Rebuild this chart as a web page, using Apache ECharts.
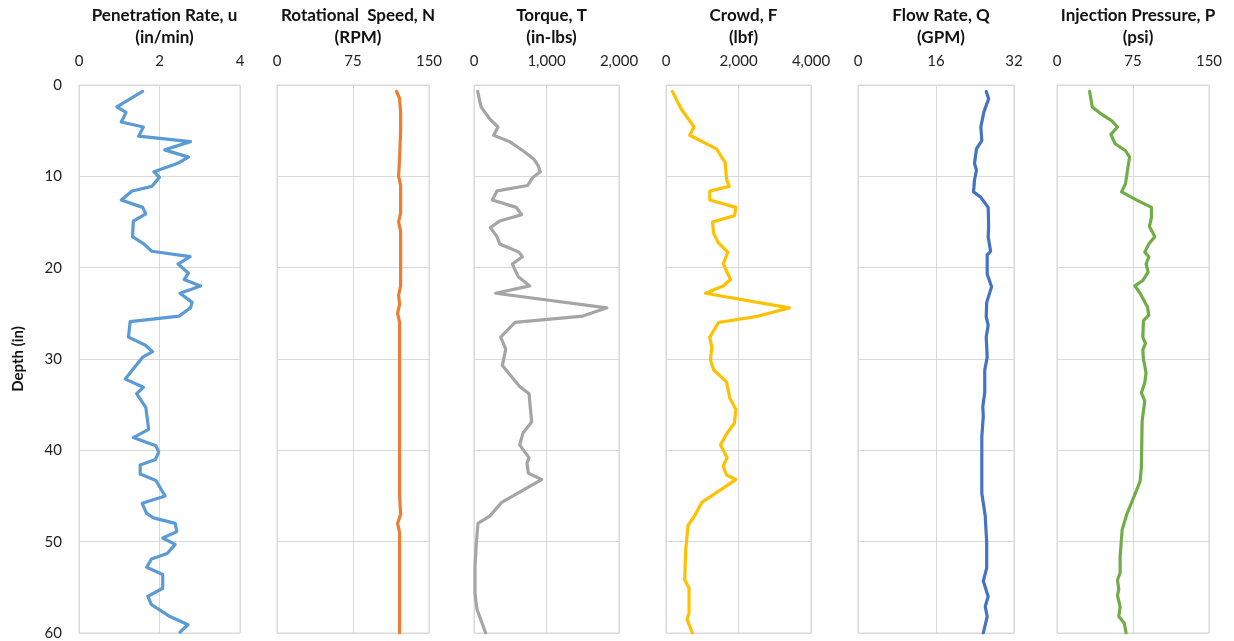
<!DOCTYPE html>
<html><head><meta charset="utf-8">
<script src="https://cdn.jsdelivr.net/npm/echarts@6/dist/echarts.min.js"></script>
<style>html,body{margin:0;padding:0;background:#fff}#c{width:1234px;height:641px}</style>
</head><body><div id="c"></div>
<script>
// ---- Data ----
const titles = ["Penetration Rate, u\n(in/min)", "Rotational  Speed, N\n(RPM)", "Torque, T\n(in-lbs)", "Crowd, F\n(lbf)", "Flow Rate, Q\n(GPM)", "Injection Pressure, P\n(psi)"];
const xMax = [4, 150, 2000, 4000, 32, 150];
const xInterval = [2, 75, 1000, 2000, 16, 75];
const depthTicks = [0, 10, 20, 30, 40, 50, 60];

const penDepth = [0.7,2.4,3.0,4.05,4.6,5.6,6.2,7.1,7.9,8.6,9.5,10.1,11.1,11.6,12.6,13.4,14.1,14.9,16.6,17.4,18.2,18.8,19.6,20.6,21.3,22.0,22.8,23.8,24.4,25.3,25.9,27.6,28.5,29.2,29.8,32.2,33.1,33.8,35.3,37.7,38.6,39.5,40.2,41.0,41.6,42.6,43.3,45.0,45.8,46.9,47.4,48.0,48.9,49.6,50.3,51.3,51.9,52.8,53.6,55.1,56.0,56.9,58.2,59.1,59.9];
const penRate = [1.58,0.94,1.17,1.05,1.6,1.48,2.77,2.13,2.72,2.44,1.86,2.0,1.81,1.32,1.05,1.58,1.66,1.35,1.33,1.61,1.81,2.76,2.46,2.72,2.61,3.02,2.51,2.81,2.77,2.49,1.27,1.23,1.65,1.83,1.58,1.15,1.6,1.43,1.66,1.73,1.35,1.91,1.98,1.9,1.52,1.52,1.91,2.14,1.57,1.68,1.85,2.39,2.43,2.08,2.39,2.19,1.8,1.68,2.08,2.08,1.71,1.8,2.26,2.71,2.51];

const rpmDepth = [0.7,1.5,3,5,8,10,11,14,15,16,22,23,24,25,26,30,40,45,47,48,49,55,60];
const rpm = [118,121,122,122,121,120,122,122,120,122,122,120,121,119,121,121,121,121,122,119,121,121,121];

const torqueDepth = [0.7,2.4,3.7,4.6,5.5,6.2,7.2,8.1,8.8,9.5,10.1,11.0,11.6,12.6,13.4,14.2,14.9,15.6,16.6,17.4,18.3,18.8,19.6,21.0,22.0,22.8,24.4,25.3,26.0,27.6,28.9,29.3,30.7,33.0,33.8,36.9,38.1,39.4,40.8,41.4,42.5,43.2,44.2,45.7,47.2,48.0,50.2,52.7,55.7,57.4,60.0];
const torque = [51,97,216,331,271,492,676,823,883,915,814,740,317,253,584,657,354,225,317,354,621,667,529,611,768,299,1834,1503,566,368,437,428,391,630,759,795,676,630,759,731,749,933,713,382,216,55,32,14,14,41,161];

const crowdDepth = [0.7,2.6,4.6,5.5,7.0,8.5,10.3,11.1,11.6,12.6,13.4,14.3,15.0,16.3,17.3,18.3,19.6,21.3,22.0,22.8,24.4,25.3,26.0,27.6,28.7,30.1,31.2,32.5,34.3,35.5,37.0,38.1,39.4,40.8,41.7,42.7,43.2,45.7,47.2,48.2,50.9,54.2,55.1,57.8,58.5,60.0];
const crowd = [175,415,774,654,1392,1632,1669,1743,1208,1208,1927,1890,1282,1319,1448,1706,1577,1780,1577,1088,3402,2554,1448,1208,1263,1226,1319,1669,1761,1927,1890,1687,1503,1687,1577,1669,1927,987,784,609,544,516,636,636,581,728];

const flowDepth = [0.7,1.5,3.0,4.6,6.1,7.0,8.6,9.3,10.4,11.7,12.3,13.4,15.5,16.6,18.2,18.6,20.7,22.1,23.8,25.4,26.3,27.6,29.8,31.2,33.7,35.2,36.3,38.5,44.7,47.2,50.1,52.9,54.3,56.0,57.1,58.2,60.0];
const flow = [26.3,26.8,25.8,25.2,25.4,24.3,23.9,24.3,23.9,23.7,25.2,26.7,26.8,26.7,27.2,26.5,26.5,27.4,26.4,26.3,26.7,26.3,26.5,26.0,26.0,25.6,25.7,25.4,25.4,26.1,26.4,26.4,25.7,26.7,26.1,26.5,25.7];

const injDepth = [0.7,2.4,3.1,3.9,4.6,5.4,6.4,7.2,7.9,9.3,10.8,11.7,12.6,13.4,14.5,15.5,16.6,17.4,18.3,18.8,19.6,20.5,21.4,22.0,22.8,24.3,25.2,25.8,27.6,28.3,29.0,30.0,31.5,32.6,33.7,34.6,36.8,41.8,43.4,45.2,47.0,48.7,51.6,53.4,54.2,55.2,55.9,57.1,58.2,58.9,60.0];
const inj = [32.2,34.8,42.7,53.8,59.7,53.2,57.1,67.6,71.6,69.6,67.6,63.7,78.8,93.2,93.2,91.2,96.5,90.6,86.6,90.6,88.0,89.9,84.7,76.8,82.0,89.3,90.6,85.3,84.7,87.3,84.7,85.3,87.9,86.6,83.3,86.6,84.0,83.3,82.0,75.5,68.9,64.3,62.3,62.3,59.7,61.0,59.7,62.3,61.0,66.3,68.2];

const colors = ['#5B9BD5','#ED7D31','#A5A5A5','#FFC000','#4472C4','#70AD47'];
const seriesDepth = [penDepth, rpmDepth, torqueDepth, crowdDepth, flowDepth, injDepth];
const seriesVals = [penRate, rpm, torque, crowd, flow, inj];

// ---- Layout ----
const gLefts = [79, 277, 474, 666, 858, 1057];
const gWidths = [161, 152, 145, 145, 156, 152];
const gTop = 85, gHeight = 548;
const font = 'Lato, "Open Sans", sans-serif';

const grid = [], xAxis = [], yAxis = [], series = [], title = [];
for (let i = 0; i < 6; i++) {
  grid.push({left: gLefts[i], width: gWidths[i], top: gTop, height: gHeight, show: true, borderColor: '#D9D9D9', borderWidth: 1, containLabel: false});
  xAxis.push({type: 'value', gridIndex: i, position: 'top', min: 0, max: xMax[i], interval: xInterval[i],
    axisLine: {show: false}, axisTick: {show: false},
    splitLine: {show: true, lineStyle: {color: '#D9D9D9', width: 1}},
    axisLabel: {color: '#222', fontSize: 15, fontFamily: font, margin: 16, formatter: v => v.toLocaleString('en-US')}});
  yAxis.push({type: 'value', gridIndex: i, inverse: true, min: depthTicks[0], max: depthTicks[depthTicks.length-1], interval: 10,
    axisLine: {show: false}, axisTick: {show: false},
    splitLine: {show: true, lineStyle: {color: '#D9D9D9', width: 1}},
    axisLabel: {show: i === 0, color: '#222', fontSize: 15, fontFamily: font, margin: 17},
    name: i === 0 ? 'Depth (in)' : '', nameLocation: 'middle', nameRotate: 90, nameGap: 53,
    nameTextStyle: {fontSize: 15, fontWeight: 'bold', color: '#111', fontFamily: font}});
  title.push({text: titles[i], left: gLefts[i] + gWidths[i] / 2, top: 0, textAlign: 'center',
    textStyle: {fontSize: 17, fontWeight: 'bold', color: '#111', fontFamily: font, lineHeight: 22}});
  const d = seriesDepth[i], v = seriesVals[i];
  series.push({type: 'line', xAxisIndex: i, yAxisIndex: i, showSymbol: false, symbol: 'none', animation: false,
    lineStyle: {color: colors[i], width: 3.2, join: 'round', cap: 'round'}, itemStyle: {color: colors[i]},
    data: v.map((val, k) => [val, d[k]])});
}

const chart = echarts.init(document.getElementById('c'));
chart.setOption({animation: false, backgroundColor: '#fff', title, grid, xAxis, yAxis, series});
</script></body></html>
